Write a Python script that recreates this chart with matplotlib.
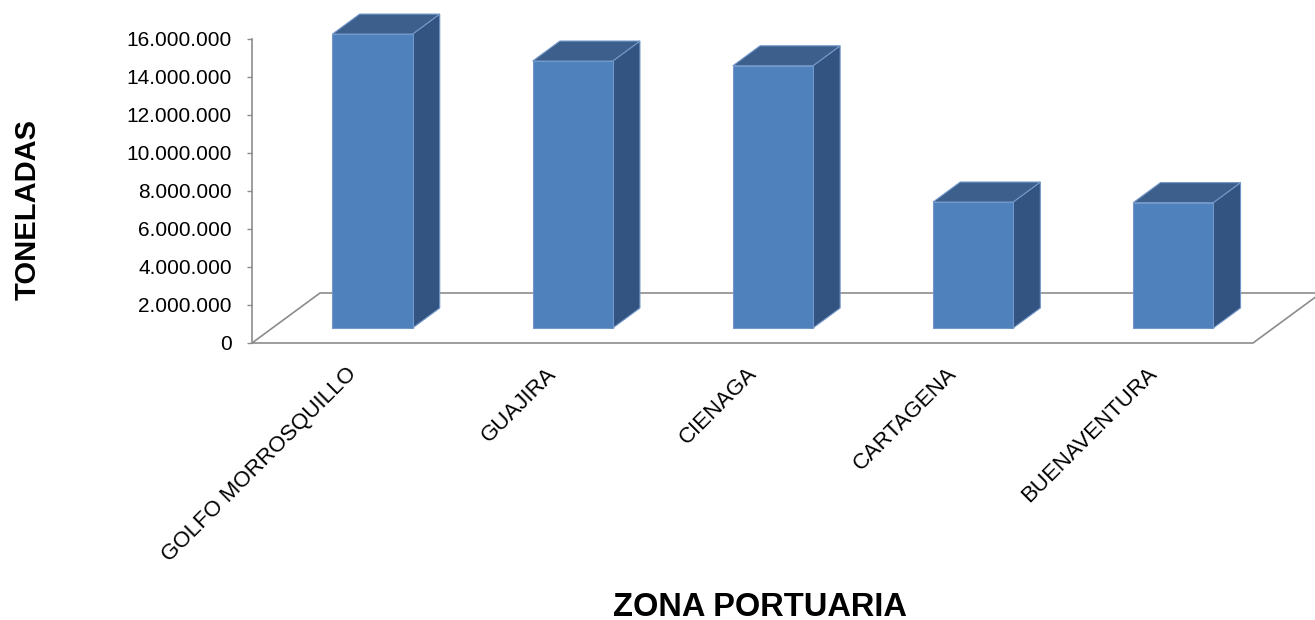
import matplotlib
matplotlib.use('Agg')
import matplotlib.pyplot as plt
from matplotlib.patches import Polygon
from matplotlib.ticker import FuncFormatter

plt.rcParams['font.family'] = ['Liberation Sans', 'DejaVu Sans']

# Toneladas por zona portuaria
zonas = ['GOLFO MORROSQUILLO', 'GUAJIRA', 'CIENAGA', 'CARTAGENA', 'BUENAVENTURA']
toneladas = [15.47e6, 14.05e6, 13.8e6, 6.63e6, 6.6e6]
ticks = [0, 2e6, 4e6, 6e6, 8e6, 10e6, 12e6, 14e6, 16e6]

# colores de las caras
c_front = '#4F81BD'
c_top = '#3C5F8C'
c_side = '#335481'
c_edge = '#7397C9'

W, H = 1315, 620
fig = plt.figure(figsize=(W / 100, H / 100), dpi=100)
ax = fig.add_axes([252 / W, (H - 343) / H, (W - 252) / W, 304 / H])
ax.set_xlim(0, (W - 252) / 200.2)
ax.set_ylim(0, 16e6)

# desplazamiento de profundidad (proyeccion oblicua)
DX = 68 / 200.2
DY = 50 / 19 * 1e6
d0, d1 = 0.3, 0.7
bw = 0.4

# piso
n = len(zonas)
floor = Polygon([(0, 0), (n, 0), (n + DX, DY), (DX, DY)], closed=True,
                facecolor='white', edgecolor='#8C8C8C', lw=1.2, clip_on=False, zorder=1)
ax.add_patch(floor)

for i, v in enumerate(toneladas):
    c = i + 0.5
    xl, xr = c - bw / 2 + d0 * DX, c + bw / 2 + d0 * DX
    yb = d0 * DY
    ox, oy = (d1 - d0) * DX, (d1 - d0) * DY
    front = [(xl, yb), (xr, yb), (xr, yb + v), (xl, yb + v)]
    side = [(xr, yb), (xr + ox, yb + oy), (xr + ox, yb + v + oy), (xr, yb + v)]
    top = [(xl, yb + v), (xr, yb + v), (xr + ox, yb + v + oy), (xl + ox, yb + v + oy)]
    for pts, col in [(side, c_side), (top, c_top), (front, c_front)]:
        ax.add_patch(Polygon(pts, closed=True, facecolor=col, edgecolor=c_edge,
                             lw=0.8, clip_on=False, zorder=3))
    ax.annotate(zonas[i], xy=(c, 0), xytext=(1, -20), textcoords='offset points',
                rotation=45, ha='right', va='center', rotation_mode='anchor',
                fontsize=16, color='black', annotation_clip=False)

for s in ['top', 'right', 'bottom']:
    ax.spines[s].set_visible(False)
ax.spines['left'].set_color('#8C8C8C')
ax.spines['left'].set_linewidth(1.2)
ax.set_xticks([])
ax.set_yticks(ticks)
ax.yaxis.set_major_formatter(FuncFormatter(lambda y, p: f'{y:,.0f}'.replace(',', '.')))
ax.tick_params(axis='y', length=3.5, width=1, color='#8C8C8C', pad=11, labelsize=15)
ax.patch.set_alpha(0)

fig.text(28 / W, 1 - 210 / H, 'TONELADAS', rotation=90, ha='center', va='center',
         fontsize=21, fontweight='bold')
fig.text(760 / W, 1 - 607 / H, 'ZONA PORTUARIA', ha='center', va='center',
         fontsize=23.5, fontweight='bold')

fig.savefig('out.png', dpi=100)
